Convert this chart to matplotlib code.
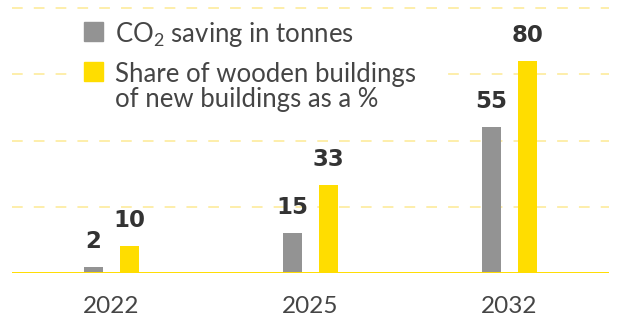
import matplotlib
matplotlib.use("Agg")
import matplotlib.pyplot as plt
from matplotlib.patches import Rectangle
import numpy as np

plt.rcParams['font.family'] = ['Lato', 'DejaVu Sans']
plt.rcParams['mathtext.default'] = 'regular'
plt.rcParams['lines.scale_dashes'] = False

# Datos
anios = ['2022', '2025', '2032']
ahorro_co2 = [2, 15, 55]           # toneladas de CO2
cuota_madera = [10, 33, 80]        # % de edificios nuevos en madera
etiqueta_co2 = 'CO$_2$ saving in tonnes'
etiqueta_madera = 'Share of wooden buildings\nof new buildings as a %'

gris = '#939393'
amarillo = '#ffdd00'
amarillo_claro = '#fdeb9c'
texto = '#454545'

W, H = 618, 320
fig = plt.figure(figsize=(W / 100, H / 100), dpi=100)
ax = fig.add_axes([12 / W, 1 - 272.7 / H, 597 / W, 272.3 / H])

x = np.arange(len(anios))
ancho = 0.095
sep = 0.09

ax.bar(x - sep, ahorro_co2, width=ancho, color=gris, zorder=3)
ax.bar(x + sep, cuota_madera, width=ancho, color=amarillo, zorder=3)

# Valores encima de cada barra
for xi, v in zip(x - sep, ahorro_co2):
    ax.annotate(str(v), (xi, v), xytext=(0, 14), textcoords='offset points',
                ha='center', va='baseline', fontsize=16.5, fontweight='bold',
                family='DejaVu Sans', color='#333333', zorder=4)
for xi, v in zip(x + sep, cuota_madera):
    ax.annotate(str(v), (xi, v), xytext=(0, 14), textcoords='offset points',
                ha='center', va='baseline', fontsize=16.5, fontweight='bold',
                family='DejaVu Sans', color='#333333', zorder=4)

# Líneas de guía discontinuas y línea base
for yv in [25, 50, 75, 100]:
    ax.axhline(yv, color=amarillo_claro, lw=1.2, linestyle=(0, (7.7, 8)), zorder=1)
ax.axhline(0, color=amarillo, lw=1.4, zorder=4)

ax.set_xlim(-0.5, 2.5)
ax.set_ylim(0, 103)
ax.set_yticks([])
ax.set_xticks(x)
ax.set_xticklabels(anios, fontsize=17.5, color=texto)
ax.tick_params(axis='x', length=0, pad=17)
for s in ax.spines.values():
    s.set_visible(False)


# Leyenda dibujada a mano (coordenadas en píxeles de la figura)
def px(xp, yp):
    return xp / W, 1 - yp / H


fig.patches.append(Rectangle(px(68, 118), 377 / W, 103 / H, color='white',
                             transform=fig.transFigure, zorder=2))
fig.patches.append(Rectangle(px(84, 41), 19 / W, 19 / H, color=gris,
                             transform=fig.transFigure, zorder=3))
fig.patches.append(Rectangle(px(84, 80.5), 19 / W, 19 / H, color=amarillo,
                             transform=fig.transFigure, zorder=3))
fig.text(*px(115, 42), etiqueta_co2, fontsize=18.5, color=texto, va='baseline', zorder=3)
# con va='baseline' un texto de varias líneas se alinea por la última línea
fig.text(*px(115, 107), etiqueta_madera, fontsize=18.5, color=texto, va='baseline',
         linespacing=1.02, zorder=3)

plt.savefig('out.png', dpi=100)
